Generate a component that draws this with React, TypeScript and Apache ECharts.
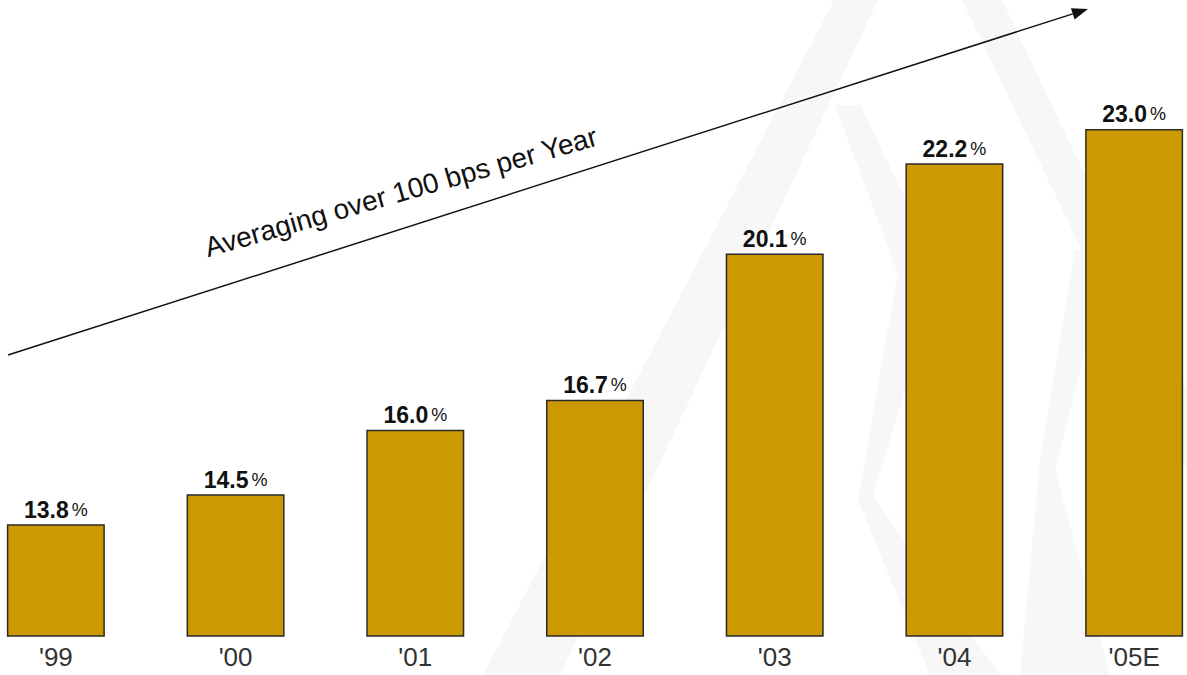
import React, { useEffect, useRef } from "react";
import * as echarts from "echarts";

const categories = ["'99", "'00", "'01", "'02", "'03", "'04", "'05E"];
const margins = [13.8, 14.5, 16.0, 16.7, 20.1, 22.2, 23.0];
const annotation = "Averaging over 100 bps per Year";

const OX = 34; // the chart canvas starts 34px left of the visible page
const EXTRA_R = 37;

export default function App() {
  const ref = useRef<HTMLDivElement>(null);
  useEffect(() => {
    if (!ref.current) return;
    const chart = echarts.init(ref.current, null, { renderer: "svg" });
    const wm = "#f7f7f7";
    const P = (x: number, y: number) => [x + OX, y];
    const ang = Math.atan2(355 - 10, 1088 - 8);
    const tipX = 1088 + OX, tipY = 9;
    const L = 16, W = 6;
    const bx = tipX - L * Math.cos(ang), by = tipY + L * Math.sin(ang);
    const px = W * Math.sin(ang), py = W * Math.cos(ang);
    chart.setOption({
      animation: false,
      backgroundColor: "#ffffff",
      grid: { left: 0, right: 0, top: 0, bottom: 39, containLabel: false },
      xAxis: {
        type: "category",
        data: categories,
        axisLine: { show: false },
        axisTick: { show: false },
        axisLabel: {
          color: "#333",
          fontSize: 26,
          fontFamily: "Liberation Sans, Arial, sans-serif",
          margin: 8,
        },
      },
      yAxis: {
        type: "value",
        min: 11.2,
        max: 26,
        show: false,
        splitLine: { show: false },
      },
      series: [
        {
          type: "bar",
          data: margins,
          barWidth: 98,
          z: 5,
          itemStyle: { color: "#CC9900", borderColor: "#2a2a2a", borderWidth: 1.5 },
          label: {
            show: true,
            position: "top",
            distance: 3,
            formatter: (p: any) => `{b|${p.value.toFixed(1)}}{p|%}`,
            rich: {
              b: {
                fontSize: 23,
                fontWeight: "bold",
                color: "#111",
                fontFamily: "Liberation Sans, Arial, sans-serif",
              },
              p: {
                fontSize: 18,
                color: "#111",
                fontFamily: "Liberation Sans, Arial, sans-serif",
                padding: [0, 0, 0, 3],
              },
            },
          },
        },
      ],
      graphic: [
        {
          type: "group",
          z: -10,
          silent: true,
          children: [
            { type: "polygon", shape: { points: [P(483, 675), P(560, 675), P(878, 0), P(834, 0)] }, style: { fill: wm } },
            { type: "polygon", shape: { points: [P(962, 0), P(1002, 0), P(1187, 390), P(1187, 470)] }, style: { fill: wm } },
            { type: "polygon", shape: { points: [P(835, 105), P(860, 105), P(940, 270), P(900, 280)] }, style: { fill: wm } },
            { type: "polygon", shape: { points: [P(900, 260), P(945, 260), P(870, 505), P(858, 500)] }, style: { fill: wm } },
            { type: "polygon", shape: { points: [P(858, 500), P(872, 495), P(1000, 675), P(930, 675)] }, style: { fill: wm } },
            { type: "polygon", shape: { points: [P(1075, 250), P(1110, 250), P(1055, 470), P(1040, 460)] }, style: { fill: wm } },
            { type: "polygon", shape: { points: [P(1040, 460), P(1055, 470), P(1110, 675), P(1020, 675)] }, style: { fill: wm } },
          ],
        },
        {
          type: "line",
          z: 10,
          shape: { x1: 8 + OX, y1: 355, x2: bx, y2: by },
          style: { stroke: "#111", lineWidth: 1.5 },
        },
        {
          type: "polygon",
          z: 10,
          shape: {
            points: [
              [tipX, tipY],
              [bx + px, by + py],
              [bx - px, by - py],
            ],
          },
          style: { fill: "#111" },
        },
        {
          type: "text",
          z: 10,
          x: 401 + OX,
          y: 192,
          rotation: (16 * Math.PI) / 180,
          style: {
            text: annotation,
            x: 0,
            y: 0,
            align: "center",
            verticalAlign: "middle",
            fontSize: 28,
            fontFamily: "Liberation Sans, Arial, sans-serif",
            fill: "#111",
          },
        },
      ],
    });
    return () => chart.dispose();
  }, []);
  return (
    <div
      style={{
        position: "fixed",
        left: 0,
        top: 0,
        width: 1187,
        height: 675,
        overflow: "hidden",
        background: "#fff",
      }}
    >
      <div
        ref={ref}
        style={{
          position: "absolute",
          left: -OX,
          top: 0,
          width: 1187 + OX + EXTRA_R,
          height: 675,
        }}
      />
    </div>
  );
}
